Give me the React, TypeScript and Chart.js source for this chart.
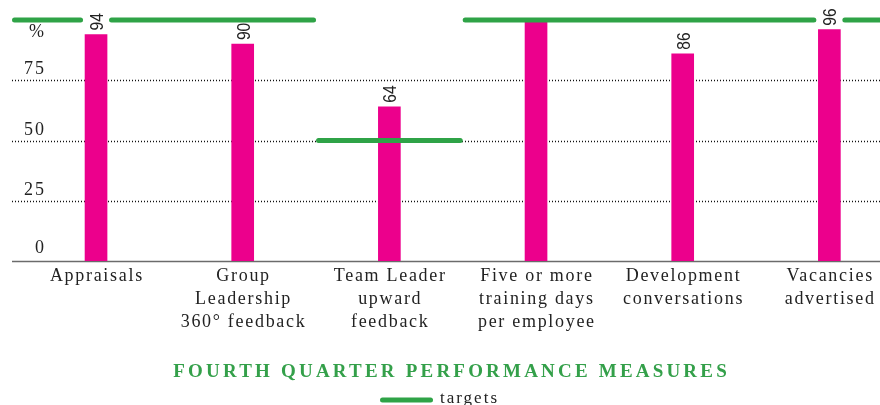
import React, { useEffect, useRef } from "react";
import { Chart, registerables } from "chart.js";

Chart.register(...registerables);

// ---- data ----
const categories: string[][] = [
  ["Appraisals"],
  ["Group", "Leadership", "360° feedback"],
  ["Team Leader", "upward", "feedback"],
  ["Five or more", "training days", "per employee"],
  ["Development", "conversations"],
  ["Vacancies", "advertised"],
];
const actualValues: number[] = [94, 90, 64, 100, 86, 96];
const targetValues: number[] = [100, 100, 50, 100, 100, 100];
const yTickValues: number[] = [0, 25, 50, 75];
const yUnitLabel = "%";
const chartTitle = "FOURTH QUARTER PERFORMANCE MEASURES";
const legendLabel = "targets";

// ---- styling / layout ----
const CANVAS_W = 903;
const CANVAS_H = 405;
const PLOT_LEFT = 12;
const TICK_RIGHT = 44;
const BAR_COLOR = "#ec008c";
const GREEN = "#2fa347";
const TITLE_GREEN = "#34a04a";
const TEXT = "#222222";
const SERIF = '"Liberation Serif", "Times New Roman", serif';
const SANS = '"Liberation Sans", Arial, sans-serif';
const LINE_W = 5;

const customDraw = {
  id: "customDraw",
  beforeDatasetsDraw(chart: any) {
    const { ctx, chartArea, scales } = chart;
    const y = scales.y;
    const right = chart.width;
    ctx.save();
    // dotted gridlines
    ctx.strokeStyle = "#111";
    ctx.lineWidth = 1.3;
    ctx.setLineDash([1, 2]);
    for (const v of yTickValues) {
      if (v <= 0) continue;
      const py = Math.round(y.getPixelForValue(v)) + 0.5;
      ctx.beginPath();
      ctx.moveTo(PLOT_LEFT, py);
      ctx.lineTo(right, py);
      ctx.stroke();
    }
    ctx.setLineDash([]);
    // base axis line
    ctx.strokeStyle = "#6b6b6b";
    ctx.lineWidth = 1.6;
    const p0 = y.getPixelForValue(0) + 0.5;
    ctx.beginPath();
    ctx.moveTo(PLOT_LEFT, p0);
    ctx.lineTo(right, p0);
    ctx.stroke();
    // tick labels
    ctx.font = `18px ${SERIF}`;
    ctx.fillStyle = TEXT;
    ctx.textAlign = "right";
    ctx.textBaseline = "alphabetic";
    (ctx as any).letterSpacing = "2px";
    for (const v of yTickValues) {
      const py = y.getPixelForValue(v);
      ctx.fillText(String(v), TICK_RIGHT + 2, py - (v === 0 ? 8 : 6));
    }
    (ctx as any).letterSpacing = "0px";
    ctx.fillText(yUnitLabel, TICK_RIGHT, chartArea.top + 17);
    ctx.restore();
  },
  afterDatasetsDraw(chart: any) {
    const { ctx, chartArea, scales } = chart;
    const x = scales.x;
    const y = scales.y;
    const meta = chart.getDatasetMeta(0);
    const n = categories.length;
    const w = (chartArea.right - chartArea.left) / n;
    const yMax = y.max;

    // data labels geometry
    const labelFontSize = 19;
    const condense = 0.82;
    ctx.save();
    ctx.font = `${labelFontSize}px ${SANS}`;
    const labels: any[] = [];
    actualValues.forEach((v, i) => {
      if (v >= yMax) return;
      const bar = meta.data[i];
      const text = String(v);
      const tw = ctx.measureText(text).width * condense;
      const bottom = bar.y - 4;
      labels.push({ cx: bar.x, bottom, top: bottom - tw, text });
    });
    ctx.restore();

    // target runs
    const runs: { a: number; b: number; v: number }[] = [];
    for (let i = 0; i < n; i++) {
      const c = x.getPixelForValue(i);
      let a = c - w / 2;
      let b = c + w / 2;
      if (i === 0) a = Math.min(a, PLOT_LEFT);
      if (i === n - 1) b = chart.width;
      const last = runs[runs.length - 1];
      if (last && last.v === targetValues[i]) last.b = b;
      else runs.push({ a, b, v: targetValues[i] });
    }
    ctx.save();
    ctx.strokeStyle = GREEN;
    ctx.lineWidth = LINE_W;
    ctx.lineCap = "round";
    const r = LINE_W / 2;
    for (const run of runs) {
      const py = y.getPixelForValue(run.v);
      const excl = labels
        .filter((l) => py + r > l.top && py - r < l.bottom && l.cx > run.a && l.cx < run.b)
        .map((l) => [l.cx - 13, l.cx + 13])
        .sort((p, q) => p[0] - q[0]);
      const pieces: number[][] = [];
      let start = run.a;
      for (const [ea, eb] of excl) {
        pieces.push([start, ea]);
        start = eb;
      }
      pieces.push([start, run.b]);
      for (const [pa, pb] of pieces) {
        if (pb - pa <= LINE_W) continue;
        ctx.beginPath();
        ctx.moveTo(pa + r, py);
        ctx.lineTo(pb - r, py);
        ctx.stroke();
      }
    }
    ctx.restore();

    // data labels
    ctx.save();
    ctx.font = `${labelFontSize}px ${SANS}`;
    ctx.fillStyle = TEXT;
    ctx.textAlign = "left";
    ctx.textBaseline = "alphabetic";
    const capH = 0.716 * labelFontSize;
    for (const l of labels) {
      ctx.save();
      ctx.translate(l.cx, l.bottom);
      ctx.rotate(-Math.PI / 2);
      ctx.scale(condense, 1);
      ctx.fillText(l.text, 0, capH / 2);
      ctx.restore();
    }
    ctx.restore();
  },
  afterDraw(chart: any) {
    const { ctx, chartArea, scales } = chart;
    const x = scales.x;
    ctx.save();
    // category labels
    ctx.font = `18px ${SERIF}`;
    ctx.fillStyle = TEXT;
    ctx.textAlign = "center";
    ctx.textBaseline = "alphabetic";
    const ls = 1.7;
    (ctx as any).letterSpacing = `${ls}px`;
    categories.forEach((lines, i) => {
      const cx = x.getPixelForValue(i) + ls / 2;
      lines.forEach((line, j) => {
        ctx.fillText(line, cx, chartArea.bottom + 20 + j * 23);
      });
    });
    // title
    const tls = 3.2;
    (ctx as any).letterSpacing = `${tls}px`;
    ctx.font = `bold 19px ${SERIF}`;
    ctx.fillStyle = TITLE_GREEN;
    ctx.fillText(chartTitle, 450 + tls / 2, 377);
    // legend
    ctx.strokeStyle = GREEN;
    ctx.lineWidth = LINE_W;
    ctx.lineCap = "round";
    ctx.beginPath();
    ctx.moveTo(380 + LINE_W / 2, 400);
    ctx.lineTo(433 - LINE_W / 2, 400);
    ctx.stroke();
    (ctx as any).letterSpacing = "2px";
    ctx.font = `17px ${SERIF}`;
    ctx.fillStyle = TEXT;
    ctx.textAlign = "left";
    ctx.fillText(legendLabel, 440, 403);
    ctx.restore();
  },
};

export default function App() {
  const canvasRef = useRef<HTMLCanvasElement | null>(null);

  useEffect(() => {
    const canvas = canvasRef.current;
    if (!canvas) return;
    const chart = new Chart(canvas, {
      type: "bar",
      data: {
        labels: categories,
        datasets: [
          {
            label: "actual",
            data: actualValues,
            backgroundColor: BAR_COLOR,
            borderWidth: 0,
            barThickness: 22,
          },
        ],
      },
      options: {
        animation: false,
        responsive: false,
        devicePixelRatio: 1,
        layout: { padding: { left: 22.7, right: 0.3, top: 20, bottom: 144 } },
        plugins: {
          legend: { display: false },
          title: { display: false },
          tooltip: { enabled: false },
        },
        scales: {
          x: { type: "category", display: false, offset: true },
          y: { type: "linear", display: false, min: 0, max: 100 },
        },
      },
      plugins: [customDraw],
    });
    return () => chart.destroy();
  }, []);

  return (
    <div
      style={{
        position: "absolute",
        left: 0,
        top: 0,
        width: 880,
        height: 405,
        overflow: "hidden",
        background: "#fff",
      }}
    >
      <canvas
        ref={canvasRef}
        width={CANVAS_W}
        height={CANVAS_H}
        style={{ display: "block", width: CANVAS_W, height: CANVAS_H }}
      />
    </div>
  );
}
